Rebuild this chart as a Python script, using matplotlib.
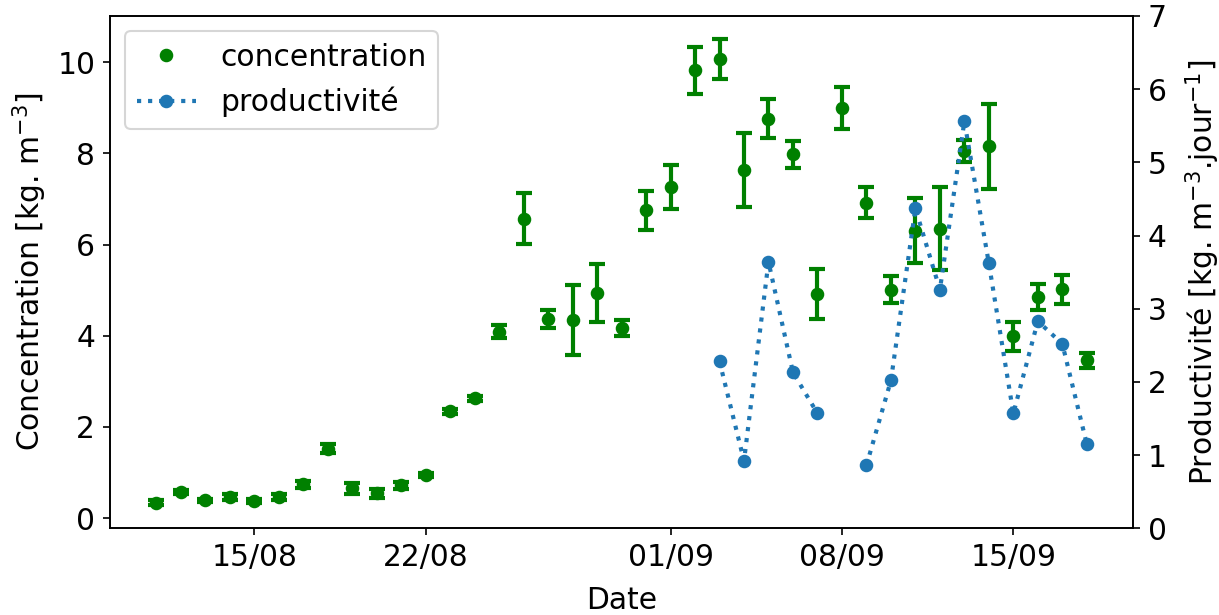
import numpy as np
import pandas as pd
import matplotlib
matplotlib.use("Agg")
import matplotlib.pyplot as plt
import matplotlib.dates as mdates

plt.rcParams["font.size"] = 14.3

# Daily measurements, 11/08 -> 18/09
dates = pd.date_range("2021-08-11", "2021-09-18", freq="D")

concentration = [0.34, 0.57, 0.39, 0.47, 0.38, 0.47, 0.74, 1.52, 0.66, 0.55,
                 0.72, 0.95, 2.34, 2.63, 4.09, 6.57, 4.37, 4.34, 4.94, 4.17,
                 6.75, 7.26, 9.82, 10.07, 7.64, 8.76, 7.98, 4.92, 8.99, 6.92,
                 5.01, 6.30, 6.35, 8.05, 8.15, 3.99, 4.85, 5.02, 3.46]
concentration_err = [0.05, 0.04, 0.04, 0.06, 0.04, 0.06, 0.08, 0.1, 0.12, 0.1,
                     0.08, 0.04, 0.05, 0.05, 0.14, 0.56, 0.2, 0.77, 0.63, 0.18,
                     0.43, 0.49, 0.51, 0.43, 0.81, 0.42, 0.3, 0.55, 0.46, 0.34,
                     0.3, 0.71, 0.91, 0.24, 0.94, 0.32, 0.28, 0.32, 0.17]

productivite = [np.nan] * 23 + [2.28, 0.92, 3.64, 2.13, 1.57, np.nan, 0.86,
                                2.02, 4.37, 3.26, 5.56, 3.62, 1.57, 2.83, 2.52, 1.15]

fig, ax = plt.subplots(figsize=(8.133, 4.1), dpi=150)
fig.subplots_adjust(left=0.09, right=0.929, top=0.974, bottom=0.141)

ax.errorbar(dates, concentration, yerr=concentration_err, fmt="none",
            ecolor="green", elinewidth=2, capsize=4, capthick=2)
ax.plot(dates, concentration, "o", color="green", markersize=5.5,
        label="concentration")
ax.set_xlabel("Date", labelpad=7)
ax.set_ylabel("Concentration [kg. m$^{-3}$]")
ax.xaxis.set_major_locator(mdates.DayLocator(bymonthday=[1, 8, 15, 22]))
ax.xaxis.set_major_formatter(mdates.DateFormatter("%d/%m"))

ax2 = ax.twinx()
ax2.plot(dates, productivite, ":o", color="tab:blue", linewidth=2,
         markersize=5.5, label="productivité")
ax2.set_ylim(0, 7)
ax2.set_ylabel("Productivité [kg. m$^{-3}$.jour$^{-1}$]", labelpad=8)

h1, l1 = ax.get_legend_handles_labels()
h2, l2 = ax2.get_legend_handles_labels()
ax.legend(h1 + h2, l1 + l2, loc="upper left")

fig.savefig("out.png", dpi=150)
